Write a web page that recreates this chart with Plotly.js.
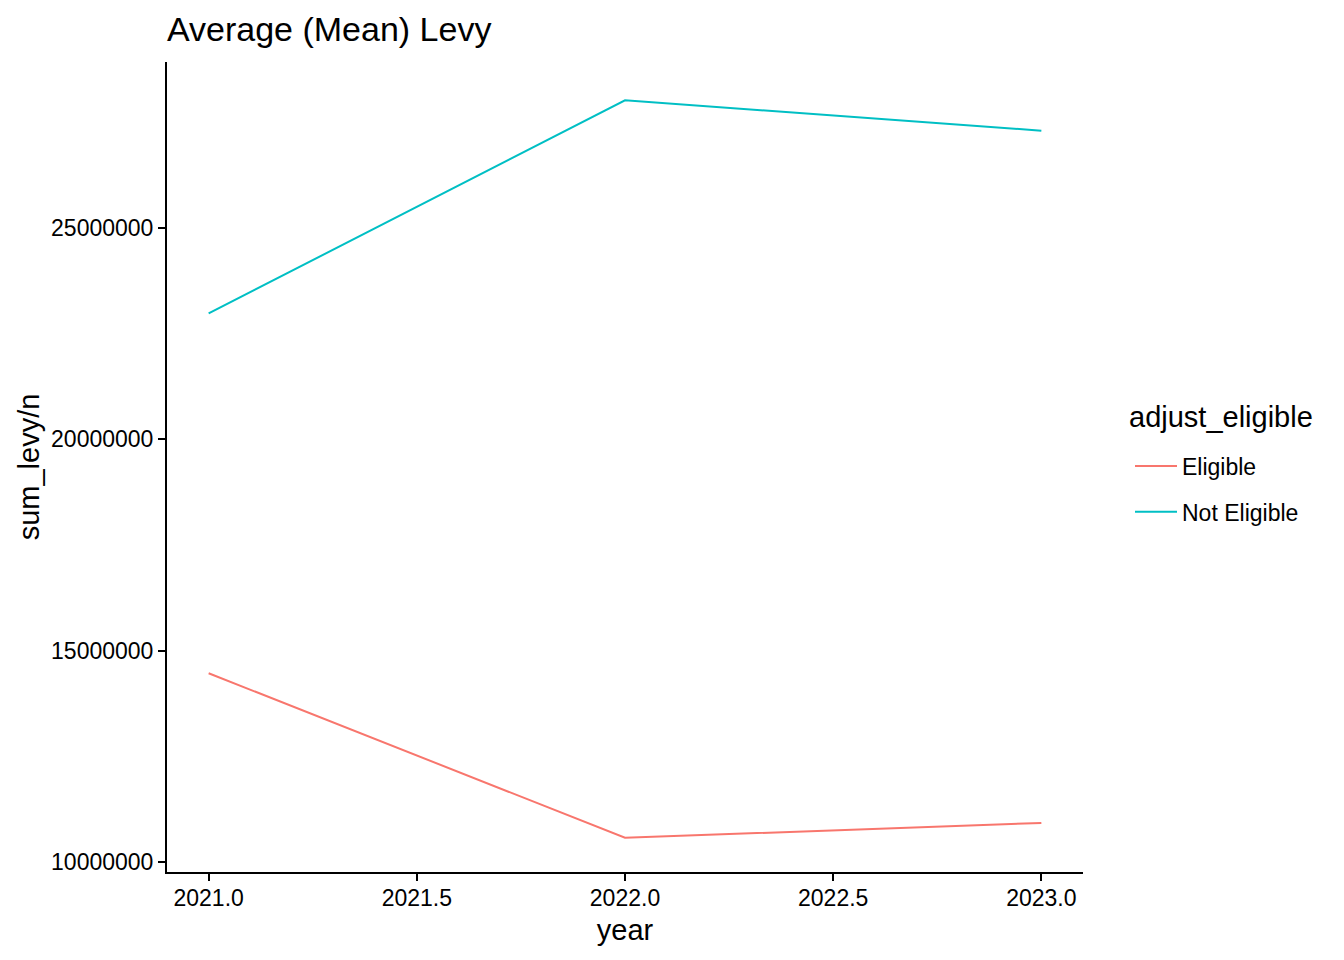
<!DOCTYPE html>
<html>
<head>
<meta charset="utf-8">
<script src="https://cdn.plot.ly/plotly-3.0.1.min.js"></script>
<style>html,body{margin:0;padding:0;background:#fff;}#chart{width:1344px;height:960px;}</style>
</head>
<body>
<div id="chart"></div>
<script>
const years = [2021, 2022, 2023];
const eligible = [14470000, 10580000, 10930000];
const notEligible = [22980000, 28020000, 27300000];
const seriesNames = ["Eligible", "Not Eligible"];
const seriesColors = ["#F8766D", "#00BFC4"];
const legendTitle = "adjust_eligible";

const FONT = "Liberation Sans, Arial, sans-serif";

const traces = [eligible, notEligible].map((vals, i) => ({
  type: "scatter",
  mode: "lines",
  x: years,
  y: vals,
  name: seriesNames[i],
  legendgroup: seriesNames[i],
  line: {color: seriesColors[i], width: 2},
  hoverinfo: "x+y+name"
}));

const plotW = 1344 - 167 - 261;
const plotH = 960 - 62 - 88;

const layout = {
  width: 1344,
  height: 960,
  paper_bgcolor: "#ffffff",
  plot_bgcolor: "#ffffff",
  margin: {l: 167, r: 261, t: 62, b: 88, pad: 0},
  font: {family: FONT, color: "#000000"},
  title: {
    text: "Average (Mean) Levy",
    font: {family: FONT, size: 34, color: "#000000"},
    xref: "container", yref: "container",
    x: 167 / 1344, xanchor: "left",
    y: 1 - 29 / 960, yanchor: "middle"
  },
  xaxis: {
    range: [2020.9, 2023.1],
    tickmode: "linear", tick0: 2021, dtick: 0.5,
    tickformat: ".1f",
    showgrid: false, zeroline: false,
    showline: true, linecolor: "#000000", linewidth: 2,
    ticks: "outside", ticklen: 7, tickwidth: 2, tickcolor: "#000000",
    ticklabelstandoff: -3,
    tickfont: {family: FONT, size: 23, color: "#000000"},
    title: {text: "year", font: {family: FONT, size: 29, color: "#000000"}, standoff: 10}
  },
  yaxis: {
    range: [9770000, 28925000],
    tickmode: "linear", tick0: 10000000, dtick: 5000000,
    tickformat: "d",
    showgrid: false, zeroline: false,
    showline: true, linecolor: "#000000", linewidth: 2,
    ticks: "outside", ticklen: 7, tickwidth: 2, tickcolor: "#000000",
    tickfont: {family: FONT, size: 23, color: "#000000"},
    title: {text: "sum_levy/n", font: {family: FONT, size: 29, color: "#000000"}, standoff: 3}
  },
  showlegend: true,
  legend: {
    x: (1130 - 167) / plotW, xref: "paper",
    y: (872 - 489) / plotH, yanchor: "middle",
    xanchor: "left",
    itemwidth: 42,
    traceorder: "grouped",
    tracegroupgap: 13,
    bgcolor: "rgba(0,0,0,0)",
    font: {family: FONT, size: 23, color: "#000000"}
  },
  annotations: [{
    text: legendTitle,
    xref: "paper", yref: "paper",
    x: (1127 - 167) / plotW, xanchor: "left",
    y: (872 - 416.5) / plotH, yanchor: "middle",
    showarrow: false,
    font: {family: FONT, size: 29, color: "#000000"}
  }]
};

Plotly.newPlot("chart", traces, layout, {displayModeBar: false});
</script>
</body>
</html>
